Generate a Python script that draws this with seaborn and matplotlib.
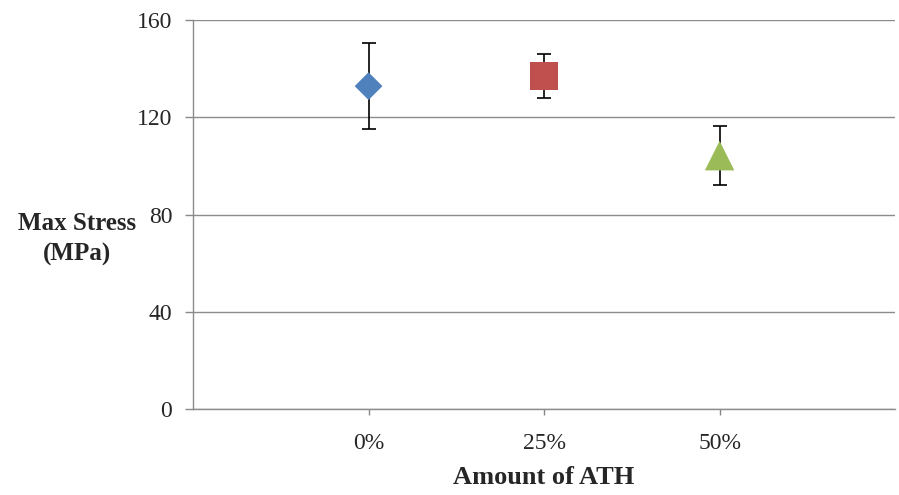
import seaborn as sns
import matplotlib.pyplot as plt
import pandas as pd

# Data
ath = ['0%', '25%', '50%']
max_stress = [132.8, 137.0, 104.2]
stress_err = [17.7, 9.0, 12.0]

colors = {'0%': '#4F81BD', '25%': '#C0504D', '50%': '#9BBB59'}
markers = {'0%': 'D', '25%': 's', '50%': '^'}
msizes = {'0%': 200, '25%': 400, '50%': 450}

df = pd.DataFrame({'ATH': ath, 'Stress': max_stress, 'Err': stress_err})

sns.set_theme(style="white")
plt.rcParams['font.family'] = ['Liberation Serif', 'DejaVu Serif']

fig = plt.figure(figsize=(8.99, 4.95), dpi=100)
ax = fig.add_axes([0.2147, 0.1737, 0.781, 0.7859])

# error bars under the markers
ax.errorbar(range(len(df)), df['Stress'], yerr=df['Err'], fmt='none',
            ecolor='black', elinewidth=1.2, capsize=5, capthick=1.2, zorder=2)

sns.scatterplot(data=df, x='ATH', y='Stress', hue='ATH', style='ATH', size='ATH',
                palette=colors, markers=markers, sizes=msizes, linewidth=0,
                legend=False, ax=ax, zorder=3)

ax.set_xlim(-1, 3)
ax.set_ylim(0, 160)
ax.set_yticks([0, 40, 80, 120, 160])
ax.set_xticks(range(len(ath)))
ax.set_xticklabels(ath)
ax.tick_params(axis='both', labelsize=17, color='#888888', width=1,
               direction='out', bottom=True, left=True)
ax.tick_params(axis='y', length=6, pad=9)
ax.tick_params(axis='x', length=4, pad=13)
ax.yaxis.grid(True, color='#8c8c8c', linewidth=1)
ax.set_axisbelow(True)

for axis in ['bottom', 'left']:
    ax.spines[axis].set_linewidth(1)
    ax.spines[axis].set_color('#8c8c8c')
ax.spines['top'].set_visible(False)
ax.spines['right'].set_visible(False)

ax.set_xlabel('Amount of ATH', fontsize=19, fontweight='bold', va='center')
ax.xaxis.set_label_coords(0.5, -0.175)
ax.set_ylabel('Max Stress\n(MPa)', fontsize=18, fontweight='bold', rotation=0,
              ha='center', va='center', linespacing=1.45)
ax.yaxis.set_label_coords(-0.165, 0.437)

plt.savefig('out.png', dpi=100)
